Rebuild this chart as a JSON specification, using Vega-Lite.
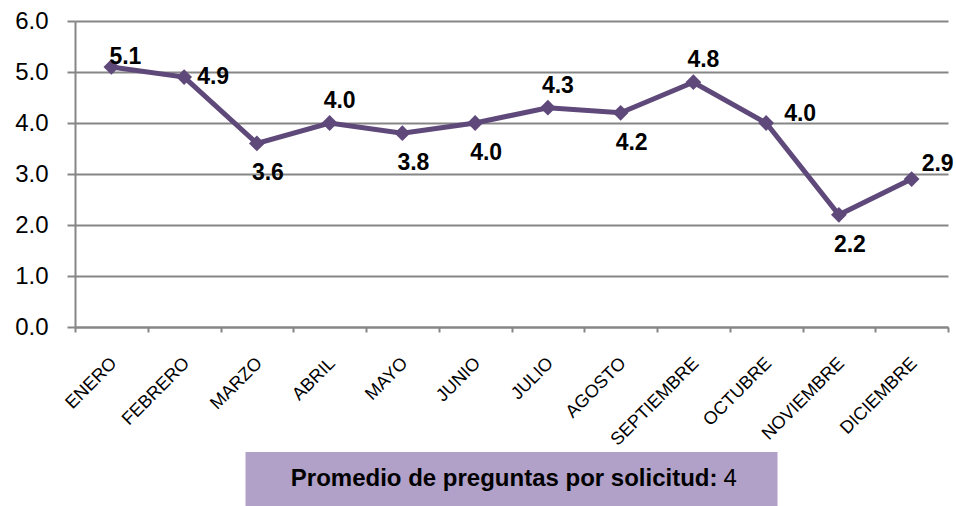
{
  "$schema": "https://vega.github.io/schema/vega-lite/v6.json",
  "padding": {"left": 14, "top": 9, "right": 0, "bottom": 0},
  "background": "white",
  "config": {
    "view": {"stroke": null},
    "font": "Liberation Sans",
    "axis": {"labelFont": "Liberation Sans", "labelColor": "#000000"}
  },
  "bounds": "flush",
  "center": true,
  "spacing": 125,
  "datasets": {
    "meses": [
      {"mes": "ENERO", "valor": 5.1},
      {"mes": "FEBRERO", "valor": 4.9},
      {"mes": "MARZO", "valor": 3.6},
      {"mes": "ABRIL", "valor": 4.0},
      {"mes": "MAYO", "valor": 3.8},
      {"mes": "JUNIO", "valor": 4.0},
      {"mes": "JULIO", "valor": 4.3},
      {"mes": "AGOSTO", "valor": 4.2},
      {"mes": "SEPTIEMBRE", "valor": 4.8},
      {"mes": "OCTUBRE", "valor": 4.0},
      {"mes": "NOVIEMBRE", "valor": 2.2},
      {"mes": "DICIEMBRE", "valor": 2.9}
    ],
    "resumen": [
      {"etiqueta": "Promedio de preguntas por solicitud:", "promedio": "4"}
    ]
  },
  "vconcat": [
    {
      "width": 873,
      "height": 306,
      "data": {"name": "meses"},
      "encoding": {
        "x": {
          "field": "mes",
          "type": "nominal",
          "sort": null,
          "bandPosition": 0.5,
          "scale": {"type": "band", "paddingInner": 0, "paddingOuter": 0},
          "axis": {
            "title": null,
            "labelAngle": -45,
            "labelAlign": "right",
            "labelBaseline": "top",
            "labelFontSize": 18,
            "labelPadding": 22,
            "labelOffset": -4,
            "tickBand": "extent",
            "tickSize": 5,
            "tickColor": "#868686",
            "tickWidth": 2,
            "domainColor": "#868686",
            "domainWidth": 2,
            "grid": false
          }
        },
        "y": {
          "field": "valor",
          "type": "quantitative",
          "scale": {"domain": [0, 6], "nice": false, "zero": true},
          "axis": {
            "title": null,
            "values": [0, 1, 2, 3, 4, 5, 6],
            "format": ".1f",
            "labelFontSize": 24,
            "labelPadding": 19,
            "tickSize": 8,
            "tickColor": "#868686",
            "tickWidth": 2,
            "domainColor": "#868686",
            "domainWidth": 2,
            "grid": true,
            "gridColor": "#868686",
            "gridWidth": 2
          }
        }
      },
      "layer": [
        {"mark": {"type": "line", "color": "#5F497A", "strokeWidth": 5}},
        {"mark": {"type": "point", "shape": "diamond", "filled": true, "color": "#5F497A", "opacity": 1, "size": 250}},
        {
          "transform": [{"filter": {"field": "mes", "oneOf": ["ABRIL", "JULIO", "SEPTIEMBRE"]}}],
          "mark": {"type": "text", "fontSize": 23, "fontWeight": "bold", "dx": 10, "dy": -22, "color": "#000000"},
          "encoding": {"text": {"field": "valor", "type": "quantitative", "format": ".1f"}}
        },
        {
          "transform": [{"filter": {"field": "mes", "oneOf": ["MARZO", "MAYO", "JUNIO", "AGOSTO", "NOVIEMBRE"]}}],
          "mark": {"type": "text", "fontSize": 23, "fontWeight": "bold", "dx": 11, "dy": 30, "color": "#000000"},
          "encoding": {"text": {"field": "valor", "type": "quantitative", "format": ".1f"}}
        },
        {
          "transform": [{"filter": {"field": "mes", "equal": "FEBRERO"}}],
          "mark": {"type": "text", "fontSize": 23, "fontWeight": "bold", "dx": 29, "dy": 0, "color": "#000000"},
          "encoding": {"text": {"field": "valor", "type": "quantitative", "format": ".1f"}}
        },
        {
          "transform": [{"filter": {"field": "mes", "equal": "OCTUBRE"}}],
          "mark": {"type": "text", "fontSize": 23, "fontWeight": "bold", "dx": 34, "dy": -9, "color": "#000000"},
          "encoding": {"text": {"field": "valor", "type": "quantitative", "format": ".1f"}}
        },
        {
          "transform": [{"filter": {"field": "mes", "equal": "ENERO"}}],
          "mark": {"type": "text", "fontSize": 23, "fontWeight": "bold", "dx": 14, "dy": -10, "color": "#000000"},
          "encoding": {"text": {"field": "valor", "type": "quantitative", "format": ".1f"}}
        },
        {
          "transform": [{"filter": {"field": "mes", "equal": "DICIEMBRE"}}],
          "mark": {"type": "text", "fontSize": 23, "fontWeight": "bold", "dx": 26, "dy": -15, "color": "#000000"},
          "encoding": {"text": {"field": "valor", "type": "quantitative", "format": ".1f"}}
        }
      ]
    },
    {
      "width": 532,
      "height": 54,
      "view": {"fill": "#B1A0C7", "stroke": null},
      "data": {"name": "resumen"},
      "layer": [
        {
          "mark": {"type": "text", "fontSize": 24, "fontWeight": "bold", "align": "right", "baseline": "middle", "dx": 206, "color": "#000000"},
          "encoding": {"text": {"field": "etiqueta", "type": "nominal"}}
        },
        {
          "mark": {"type": "text", "fontSize": 24, "fontWeight": "normal", "align": "left", "baseline": "middle", "dx": 212, "color": "#000000"},
          "encoding": {"text": {"field": "promedio", "type": "nominal"}}
        }
      ]
    }
  ]
}
